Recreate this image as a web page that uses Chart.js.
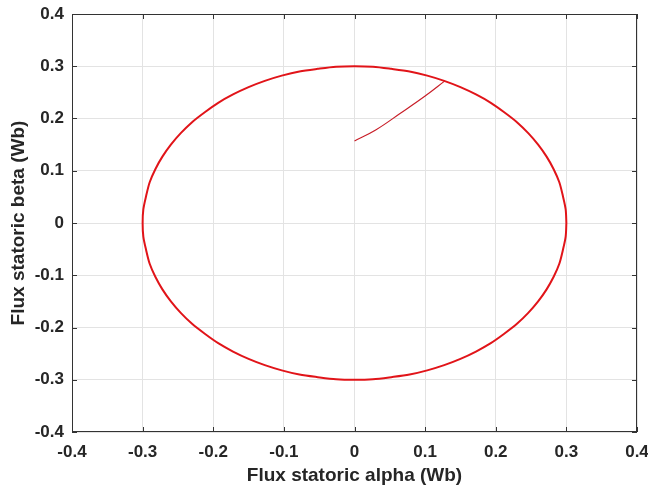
<!DOCTYPE html>
<html><head><meta charset="utf-8">
<script src="https://cdn.jsdelivr.net/npm/chart.js@4"></script>
<style>html,body{margin:0;padding:0;background:#fff}#wrap{width:648px;height:492px}</style>
</head><body><div id="wrap"><canvas id="c" width="648" height="492"></canvas></div>
<script>
// Steady-state flux trajectory
const alphaCircle = [0.300,0.299,0.295,0.290,0.282,0.272,0.260,0.246,0.230,0.212,0.193,0.172,0.150,0.127,0.103,0.078,0.052,0.026,0.000,
  -0.026,-0.052,-0.078,-0.103,-0.127,-0.150,-0.172,-0.193,-0.212,-0.230,-0.246,-0.260,-0.272,-0.282,-0.290,-0.295,-0.299,-0.300,
  -0.299,-0.295,-0.290,-0.282,-0.272,-0.260,-0.246,-0.230,-0.212,-0.193,-0.172,-0.150,-0.127,-0.103,-0.078,-0.052,-0.026,0.000,
  0.026,0.052,0.078,0.103,0.127,0.150,0.172,0.193,0.212,0.230,0.246,0.260,0.272,0.282,0.290,0.295,0.299,0.300];
const betaCircle  = [0.000,0.026,0.052,0.078,0.103,0.127,0.150,0.172,0.193,0.212,0.230,0.246,0.260,0.272,0.282,0.290,0.295,0.299,0.300,
  0.299,0.295,0.290,0.282,0.272,0.260,0.246,0.230,0.212,0.193,0.172,0.150,0.127,0.103,0.078,0.052,0.026,0.000,
  -0.026,-0.052,-0.078,-0.103,-0.127,-0.150,-0.172,-0.193,-0.212,-0.230,-0.246,-0.260,-0.272,-0.282,-0.290,-0.295,-0.299,-0.300,
  -0.299,-0.295,-0.290,-0.282,-0.272,-0.260,-0.246,-0.230,-0.212,-0.193,-0.172,-0.150,-0.127,-0.103,-0.078,-0.052,-0.026,0.000];
// Start-up transient
const alphaTransient = [0.000,0.030,0.065,0.100,0.128];
const betaTransient  = [0.157,0.178,0.210,0.243,0.272];
const tickValues = [-0.4,-0.3,-0.2,-0.1,0,0.1,0.2,0.3,0.4];
const xTitle = 'Flux statoric alpha (Wb)';
const yTitle = 'Flux statoric beta (Wb)';

const pts = (a,b)=>a.map((v,i)=>({x:v,y:b[i]}));
const tickFont = {family:'"Liberation Sans", Arial, sans-serif', weight:'bold', size:17};
const titleFont = {family:'"Liberation Sans", Arial, sans-serif', weight:'bold', size:19};
const boxPlugin = {
  id:'box',
  afterDraw(chart){
    const {ctx, chartArea:a, scales:{x,y}} = chart;
    ctx.save();
    ctx.strokeStyle = '#333333'; ctx.lineWidth = 1;
    ctx.strokeRect(a.left+0.5, a.top+0.5, a.right-a.left-1, a.bottom-a.top-1);
    ctx.beginPath();
    const L = 5;
    tickValues.forEach(v=>{
      const px = Math.round(x.getPixelForValue(v))+0.5;
      ctx.moveTo(px,a.bottom); ctx.lineTo(px,a.bottom-L);
      ctx.moveTo(px,a.top); ctx.lineTo(px,a.top+L);
      const py = Math.round(y.getPixelForValue(v))+0.5;
      ctx.moveTo(a.left,py); ctx.lineTo(a.left+L,py);
      ctx.moveTo(a.right,py); ctx.lineTo(a.right-L,py);
    });
    ctx.stroke();
    ctx.restore();
  }
};
new Chart(document.getElementById('c'), {
  type:'scatter',
  data:{datasets:[
    {data:pts(alphaCircle,betaCircle), showLine:true, borderColor:'rgb(225,20,25)', borderWidth:2, pointRadius:0, tension:0.3, fill:false},
    {data:pts(alphaTransient,betaTransient), showLine:true, borderColor:'rgb(200,30,40)', borderWidth:1.2, pointRadius:0, tension:0.4, fill:false}
  ]},
  options:{
    responsive:false, animation:false,
    layout:{padding:{top:14,right:11,left:0,bottom:0}},
    plugins:{legend:{display:false}, tooltip:{enabled:false}},
    scales:{
      x:{type:'linear', min:-0.4, max:0.4,
        afterBuildTicks(s){ s.ticks = tickValues.map(v=>({value:v})); },
        afterFit(s){ s.height = 60; s.paddingLeft = 0; s.paddingRight = 0; },
        grid:{color:'#e3e3e3', drawTicks:false},
        border:{display:false},
        ticks:{padding:10, color:'#262626', font:tickFont, maxRotation:0, autoSkip:false, callback:v=>String(v)},
        title:{display:true, text:xTitle, color:'#262626', font:titleFont, padding:{top:0,bottom:5}}
      },
      y:{type:'linear', min:-0.4, max:0.4,
        afterBuildTicks(s){ s.ticks = tickValues.map(v=>({value:v})); },
        afterFit(s){ s.width = 72; s.paddingTop = 0; s.paddingBottom = 0; },
        grid:{color:'#e3e3e3', drawTicks:false},
        border:{display:false},
        ticks:{padding:8, color:'#262626', font:tickFont, autoSkip:false, callback:v=>String(v)},
        title:{display:true, text:yTitle, color:'#262626', font:titleFont, padding:{top:7,bottom:0}}
      }
    }
  },
  plugins:[boxPlugin]
});
</script></body></html>
